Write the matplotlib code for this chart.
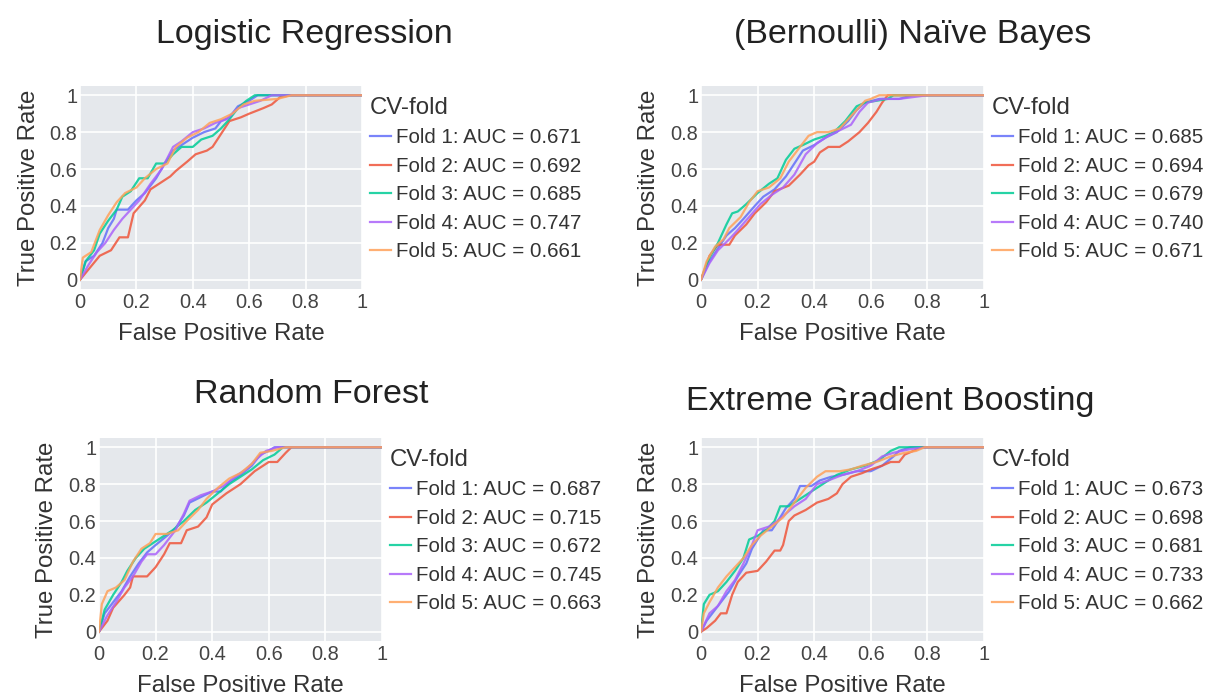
import matplotlib
matplotlib.use("Agg")
import matplotlib.pyplot as plt
from matplotlib.ticker import FixedLocator, FuncFormatter

plt.rcParams['font.family'] = ['Liberation Sans', 'DejaVu Sans']

W, H = 1208, 699

models = ["Logistic Regression", "(Bernoulli) Naïve Bayes", "Random Forest", "Extreme Gradient Boosting"]
fold_colors = ['#636EFA', '#EF553B', '#00CC96', '#AB63FA', '#FFA15A']

# AUC per fold, read from the legends
lr_auc = [0.671, 0.692, 0.685, 0.747, 0.661]
nb_auc = [0.685, 0.694, 0.679, 0.740, 0.671]
rf_auc = [0.687, 0.715, 0.672, 0.745, 0.663]
xgb_auc = [0.673, 0.698, 0.681, 0.733, 0.662]

# --- Logistic Regression ROC points (fold 1..5) ---
lr_fpr = [
    [0, 0.02, 0.05, 0.08, 0.10, 0.12, 0.13, 0.17, 0.20, 0.23, 0.27, 0.30, 0.33, 0.36, 0.40, 0.44, 0.48, 0.50, 0.53, 0.56, 0.60, 0.63, 1.0],
    [0, 0.07, 0.11, 0.14, 0.17, 0.19, 0.23, 0.25, 0.28, 0.32, 0.34, 0.38, 0.41, 0.45, 0.47, 0.50, 0.53, 0.57, 0.60, 0.65, 0.68, 0.71, 0.75, 1.0],
    [0, 0.02, 0.05, 0.07, 0.10, 0.13, 0.15, 0.18, 0.21, 0.24, 0.27, 0.30, 0.33, 0.36, 0.40, 0.43, 0.47, 0.50, 0.53, 0.56, 0.59, 0.62, 1.0],
    [0, 0.03, 0.06, 0.09, 0.12, 0.15, 0.18, 0.21, 0.25, 0.29, 0.33, 0.36, 0.40, 0.44, 0.48, 0.52, 0.56, 0.60, 0.64, 0.68, 1.0],
    [0, 0.01, 0.04, 0.07, 0.10, 0.13, 0.16, 0.20, 0.23, 0.27, 0.31, 0.34, 0.38, 0.42, 0.46, 0.50, 0.54, 0.58, 0.62, 0.70, 0.75, 1.0],
]
lr_tpr = [
    [0, 0.10, 0.13, 0.20, 0.28, 0.33, 0.38, 0.38, 0.43, 0.47, 0.55, 0.63, 0.70, 0.73, 0.77, 0.80, 0.82, 0.86, 0.88, 0.94, 0.97, 1.0, 1.0],
    [0, 0.13, 0.16, 0.23, 0.23, 0.36, 0.43, 0.49, 0.52, 0.56, 0.59, 0.64, 0.68, 0.70, 0.72, 0.79, 0.86, 0.88, 0.90, 0.93, 0.95, 0.99, 1.0, 1.0],
    [0, 0.10, 0.16, 0.25, 0.32, 0.38, 0.45, 0.48, 0.55, 0.55, 0.63, 0.63, 0.68, 0.72, 0.72, 0.76, 0.78, 0.82, 0.87, 0.93, 0.97, 1.0, 1.0],
    [0, 0.08, 0.15, 0.20, 0.27, 0.33, 0.38, 0.43, 0.52, 0.60, 0.72, 0.75, 0.80, 0.82, 0.85, 0.87, 0.93, 0.95, 0.97, 1.0, 1.0],
    [0, 0.12, 0.15, 0.27, 0.35, 0.42, 0.47, 0.50, 0.55, 0.60, 0.63, 0.72, 0.77, 0.80, 0.85, 0.87, 0.90, 0.95, 0.97, 0.98, 1.0, 1.0],
]

# --- Naive Bayes ---
nb_fpr = [
    [0, 0.03, 0.06, 0.09, 0.12, 0.15, 0.19, 0.22, 0.26, 0.30, 0.33, 0.36, 0.40, 0.44, 0.48, 0.52, 0.55, 0.58, 0.63, 0.70, 0.75, 1.0],
    [0, 0.03, 0.06, 0.10, 0.12, 0.16, 0.19, 0.23, 0.26, 0.31, 0.35, 0.38, 0.40, 0.42, 0.45, 0.49, 0.52, 0.56, 0.59, 0.62, 0.64, 0.66, 1.0],
    [0, 0.03, 0.06, 0.09, 0.11, 0.13, 0.16, 0.20, 0.24, 0.27, 0.30, 0.33, 0.36, 0.40, 0.44, 0.47, 0.51, 0.55, 0.58, 0.62, 0.66, 0.68, 1.0],
    [0, 0.03, 0.06, 0.10, 0.13, 0.17, 0.21, 0.25, 0.29, 0.33, 0.37, 0.41, 0.45, 0.49, 0.53, 0.56, 0.59, 0.64, 0.70, 0.80, 1.0],
    [0, 0.02, 0.05, 0.08, 0.10, 0.14, 0.17, 0.20, 0.24, 0.28, 0.31, 0.35, 0.38, 0.41, 0.45, 0.49, 0.52, 0.55, 0.58, 0.60, 0.63, 1.0],
]
nb_tpr = [
    [0, 0.10, 0.17, 0.24, 0.28, 0.33, 0.40, 0.45, 0.49, 0.56, 0.63, 0.70, 0.73, 0.77, 0.80, 0.86, 0.92, 0.96, 0.98, 0.98, 1.0, 1.0],
    [0, 0.13, 0.19, 0.19, 0.24, 0.30, 0.36, 0.42, 0.48, 0.51, 0.57, 0.62, 0.64, 0.69, 0.72, 0.72, 0.75, 0.80, 0.85, 0.91, 0.96, 1.0, 1.0],
    [0, 0.12, 0.20, 0.30, 0.36, 0.37, 0.41, 0.47, 0.52, 0.55, 0.65, 0.71, 0.73, 0.76, 0.78, 0.80, 0.86, 0.94, 0.96, 0.97, 0.98, 1.0, 1.0],
    [0, 0.09, 0.16, 0.22, 0.27, 0.34, 0.41, 0.46, 0.50, 0.57, 0.68, 0.74, 0.78, 0.81, 0.84, 0.91, 0.96, 0.98, 0.98, 1.0, 1.0],
    [0, 0.10, 0.18, 0.22, 0.28, 0.34, 0.42, 0.48, 0.50, 0.55, 0.64, 0.72, 0.78, 0.80, 0.80, 0.82, 0.87, 0.92, 0.97, 0.98, 1.0, 1.0],
]

# --- Random Forest ---
rf_fpr = [
    [0, 0.02, 0.05, 0.08, 0.11, 0.14, 0.17, 0.20, 0.24, 0.27, 0.30, 0.32, 0.36, 0.40, 0.43, 0.46, 0.50, 0.54, 0.57, 0.60, 0.62, 1.0],
    [0, 0.03, 0.05, 0.09, 0.11, 0.12, 0.17, 0.20, 0.23, 0.25, 0.29, 0.31, 0.35, 0.38, 0.40, 0.45, 0.50, 0.55, 0.60, 0.63, 0.66, 0.68, 1.0],
    [0, 0.02, 0.05, 0.08, 0.10, 0.13, 0.16, 0.19, 0.22, 0.26, 0.30, 0.34, 0.38, 0.42, 0.46, 0.50, 0.54, 0.58, 0.62, 0.65, 1.0],
    [0, 0.03, 0.06, 0.09, 0.12, 0.15, 0.17, 0.20, 0.23, 0.27, 0.30, 0.32, 0.36, 0.40, 0.44, 0.48, 0.52, 0.56, 0.59, 0.63, 1.0],
    [0, 0.01, 0.03, 0.06, 0.09, 0.12, 0.15, 0.18, 0.20, 0.24, 0.28, 0.31, 0.35, 0.38, 0.42, 0.46, 0.50, 0.54, 0.57, 0.61, 0.66, 1.0],
]
rf_tpr = [
    [0, 0.10, 0.16, 0.22, 0.30, 0.37, 0.43, 0.47, 0.52, 0.56, 0.63, 0.70, 0.73, 0.76, 0.76, 0.81, 0.85, 0.90, 0.96, 0.98, 1.0, 1.0],
    [0, 0.06, 0.13, 0.20, 0.24, 0.30, 0.30, 0.35, 0.42, 0.48, 0.48, 0.55, 0.57, 0.62, 0.69, 0.75, 0.80, 0.87, 0.92, 0.92, 0.97, 1.0, 1.0],
    [0, 0.12, 0.20, 0.27, 0.33, 0.40, 0.45, 0.48, 0.51, 0.55, 0.60, 0.66, 0.70, 0.75, 0.80, 0.84, 0.88, 0.93, 0.96, 1.0, 1.0],
    [0, 0.09, 0.16, 0.24, 0.30, 0.38, 0.42, 0.42, 0.47, 0.55, 0.64, 0.71, 0.74, 0.76, 0.79, 0.84, 0.88, 0.94, 0.98, 1.0, 1.0],
    [0, 0.15, 0.22, 0.24, 0.28, 0.38, 0.45, 0.48, 0.53, 0.53, 0.55, 0.60, 0.66, 0.72, 0.78, 0.83, 0.86, 0.91, 0.97, 0.98, 1.0, 1.0],
]

# --- Extreme Gradient Boosting ---
xgb_fpr = [
    [0, 0.02, 0.05, 0.08, 0.10, 0.13, 0.16, 0.18, 0.20, 0.22, 0.25, 0.28, 0.30, 0.33, 0.35, 0.39, 0.42, 0.46, 0.50, 0.55, 0.60, 0.64, 0.68, 0.70, 0.74, 1.0],
    [0, 0.02, 0.05, 0.07, 0.09, 0.10, 0.11, 0.13, 0.16, 0.20, 0.23, 0.26, 0.28, 0.29, 0.31, 0.33, 0.37, 0.41, 0.45, 0.48, 0.50, 0.53, 0.57, 0.60, 0.64, 0.67, 0.70, 0.72, 0.75, 0.78, 1.0],
    [0, 0.01, 0.03, 0.06, 0.09, 0.12, 0.15, 0.17, 0.20, 0.23, 0.26, 0.28, 0.31, 0.35, 0.39, 0.43, 0.48, 0.53, 0.58, 0.63, 0.67, 0.70, 1.0],
    [0, 0.03, 0.06, 0.09, 0.12, 0.15, 0.18, 0.20, 0.24, 0.27, 0.30, 0.33, 0.37, 0.41, 0.45, 0.50, 0.55, 0.60, 0.64, 0.68, 0.74, 0.80, 1.0],
    [0, 0.01, 0.03, 0.06, 0.09, 0.12, 0.15, 0.18, 0.21, 0.25, 0.29, 0.33, 0.37, 0.41, 0.44, 0.49, 0.53, 0.57, 0.62, 0.67, 0.72, 0.76, 0.79, 1.0],
]
xgb_tpr = [
    [0, 0.06, 0.12, 0.18, 0.22, 0.30, 0.37, 0.45, 0.50, 0.55, 0.55, 0.62, 0.67, 0.72, 0.79, 0.79, 0.82, 0.84, 0.85, 0.87, 0.87, 0.90, 0.95, 0.98, 1.0, 1.0],
    [0, 0.02, 0.06, 0.10, 0.10, 0.15, 0.20, 0.27, 0.32, 0.33, 0.38, 0.44, 0.44, 0.47, 0.60, 0.63, 0.66, 0.70, 0.72, 0.75, 0.80, 0.84, 0.86, 0.88, 0.90, 0.92, 0.92, 0.96, 0.98, 1.0, 1.0],
    [0, 0.15, 0.20, 0.22, 0.27, 0.33, 0.40, 0.50, 0.52, 0.55, 0.60, 0.68, 0.68, 0.72, 0.76, 0.80, 0.85, 0.88, 0.90, 0.93, 0.98, 1.0, 1.0],
    [0, 0.10, 0.14, 0.22, 0.28, 0.37, 0.47, 0.55, 0.57, 0.60, 0.64, 0.68, 0.72, 0.80, 0.82, 0.85, 0.87, 0.90, 0.95, 0.97, 0.99, 1.0, 1.0],
    [0, 0.10, 0.16, 0.24, 0.30, 0.35, 0.40, 0.47, 0.52, 0.57, 0.62, 0.70, 0.78, 0.84, 0.87, 0.87, 0.88, 0.90, 0.92, 0.95, 0.97, 0.98, 1.0, 1.0],
]

all_fpr = [lr_fpr, nb_fpr, rf_fpr, xgb_fpr]
all_tpr = [lr_tpr, nb_tpr, rf_tpr, xgb_tpr]
all_auc = [lr_auc, nb_auc, rf_auc, xgb_auc]

# panel placement in pixels: (left, right, top, bottom) of plot area
panel_px = [(80, 362, 86, 289), (701, 984, 86, 289), (99, 382, 438, 641), (701, 984, 438, 641)]
# title positions in pixels (centre x, baseline y)
title_px = [(304, 43), (913, 43), (311, 403), (890, 410)]

fig = plt.figure(figsize=(W / 100, H / 100), dpi=100)
fig.patch.set_facecolor('white')

ticks = [0, 0.2, 0.4, 0.6, 0.8, 1]
fmt = FuncFormatter(lambda v, _: f"{v:g}")

for k, name in enumerate(models):
    l, r, t, b = panel_px[k]
    ax = fig.add_axes([l / W, 1 - b / H, (r - l) / W, (b - t) / H])
    ax.set_facecolor('#E5E8EC')
    for i in range(5):
        ax.plot(all_fpr[k][i], all_tpr[k][i], color=fold_colors[i], lw=1.6, alpha=0.85,
                label=f"Fold {i + 1}: AUC = {all_auc[k][i]:.3f}")
    ax.set_xlim(0, 1)
    ax.set_ylim(-0.05, 1.05)
    ax.xaxis.set_major_locator(FixedLocator(ticks))
    ax.yaxis.set_major_locator(FixedLocator(ticks))
    ax.xaxis.set_major_formatter(fmt)
    ax.yaxis.set_major_formatter(fmt)
    ax.grid(True, color='white', lw=1.2)
    ax.set_axisbelow(True)
    for s in ax.spines.values():
        s.set_visible(False)
    ax.tick_params(length=0, labelsize=14.4, colors='#444444')
    ax.tick_params(axis='x', pad=3)
    ax.tick_params(axis='y', pad=2)

    ax.set_xlabel("False Positive Rate", fontsize=17.3, color='#333333', va='center')
    ax.xaxis.set_label_coords(0.5, -0.222)
    ax.set_ylabel("True Positive Rate", fontsize=17.3, color='#333333', va='center')
    ax.yaxis.set_label_coords(-0.182, 0.5)

    leg = ax.legend(title="CV-fold", loc='upper left',
                    bbox_to_anchor=((r + 8) / W, 1 - (t + 11) / H), bbox_transform=fig.transFigure,
                    frameon=False, fontsize=14.8, title_fontsize=17.3,
                    handlelength=1.0, handletextpad=0.25, labelspacing=0.46,
                    borderpad=0, borderaxespad=0, alignment='left')
    leg.get_title().set_color('#333333')
    for txt in leg.get_texts():
        txt.set_color('#333333')

    tx, ty = title_px[k]
    fig.text(tx / W, 1 - ty / H, name, ha='center', va='baseline', fontsize=24.5, color='#222222')

fig.savefig("out.png", dpi=100)
